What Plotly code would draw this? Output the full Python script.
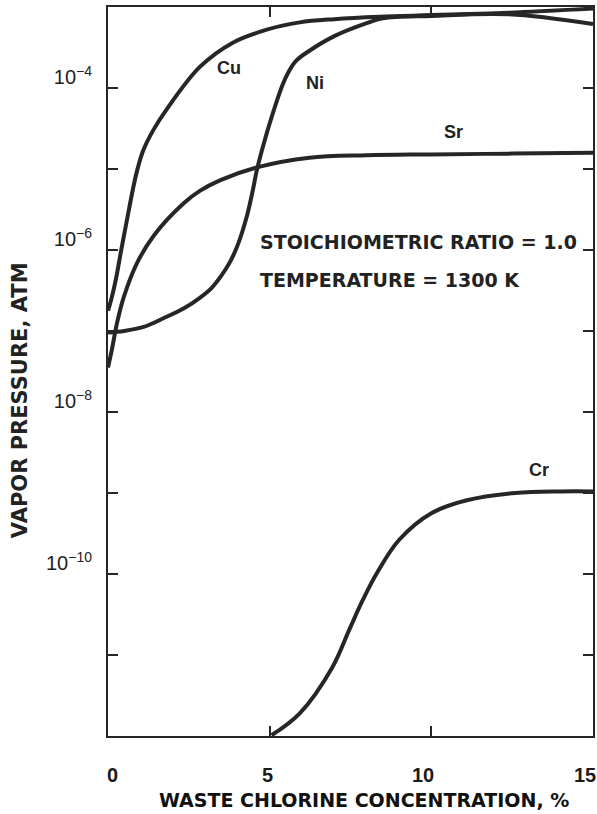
import plotly.graph_objects as go

# ---- data ----
cu_x = [0, 0.12, 0.25, 0.4, 0.6, 0.77, 0.9, 1.08, 1.4, 1.82, 2.84, 3.86, 4.91, 5.93, 7.0, 8.4, 10.0, 12.4, 15.0]
cu_y = [-6.75, -6.58, -6.35, -6.02, -5.6, -5.25, -5.02, -4.78, -4.52, -4.26, -3.74, -3.44, -3.28, -3.19, -3.15, -3.12, -3.10, -3.07, -3.02]

ni_x = [0, 0.5, 1.1, 1.73, 2.35, 2.84, 3.2, 3.5, 3.77, 4.01, 4.29, 4.48, 4.6, 4.78, 5.06, 5.4, 5.6, 5.83, 6.23, 7.0, 8.0, 8.5, 10.0, 12.4, 15.0]
ni_y = [-7.02, -7.0, -6.95, -6.84, -6.72, -6.59, -6.47, -6.32, -6.15, -5.94, -5.59, -5.26, -5.02, -4.74, -4.36, -3.96, -3.79, -3.66, -3.54, -3.36, -3.20, -3.14, -3.11, -3.09, -3.21]

sr_x = [0, 0.12, 0.28, 0.49, 0.9, 1.42, 2.35, 2.84, 3.46, 4.6, 6.23, 8.0, 10.0, 12.5, 15.0]
sr_y = [-7.45, -7.23, -6.90, -6.58, -6.16, -5.82, -5.42, -5.27, -5.14, -4.98, -4.86, -4.83, -4.82, -4.81, -4.80]

cr_x = [5.06, 5.93, 6.94, 7.47, 7.87, 8.3, 9.0, 10.0, 11.1, 12.6, 14.0, 15.0]
cr_y = [-11.99, -11.72, -11.15, -10.68, -10.33, -10.0, -9.58, -9.25, -9.09, -9.0, -8.98, -8.98]

x_ticks = [0, 5, 10, 15]
x_tick_labels = ["0", "5", "10", "15"]
y_tick_exps = [-12, -11, -10, -9, -8, -7, -6, -5, -4, -3]
y_labelled = [-10, -8, -6, -4]

series = [("Cu", cu_x, cu_y), ("Ni", ni_x, ni_y), ("Sr", sr_x, sr_y), ("Cr", cr_x, cr_y)]

LINE = "#262626"
FONT = "Liberation Sans, Arial, sans-serif"
WIDE = "DejaVu Sans, Verdana, sans-serif"

fig = go.Figure()
for name, xs, ys in series:
    fig.add_trace(go.Scatter(
        x=xs, y=[10 ** v for v in ys], mode="lines", name=name,
        line=dict(color=LINE, width=4, shape="spline", smoothing=1.0),
        showlegend=False, hoverinfo="skip"))

y_tickvals = [10 ** e for e in y_tick_exps]
y_ticktext = ["10<sup>\u2212%d</sup>" % (-e) if e in y_labelled else "" for e in y_tick_exps]

fig.update_layout(
    width=597, height=814,
    margin=dict(l=108, r=4, t=7, b=78, pad=0),
    paper_bgcolor="white", plot_bgcolor="white",
    font=dict(family=FONT, color="#222"),
    xaxis=dict(range=[0, 15], tickvals=x_ticks, ticktext=["" for _ in x_ticks],
               ticks="inside", ticklen=10, tickwidth=2, tickcolor=LINE,
               showline=True, linecolor=LINE, linewidth=2, mirror="ticks",
               showgrid=False, zeroline=False, automargin=False),
    yaxis=dict(type="log", range=[-12, -3], tickvals=y_tickvals, ticktext=y_ticktext,
               ticks="inside", ticklen=10, tickwidth=2, tickcolor=LINE,
               showline=True, linecolor=LINE, linewidth=2, mirror="ticks",
               showgrid=False, zeroline=False, tickfont=dict(size=20, color="#222"),
               ticklabelstandoff=10, ticklabelshift=-11, automargin=False),
)

# x tick labels (drawn as annotations so that "15" stays inside the page)
x_label_shift = {"0": 4, "5": -2, "10": -8, "15": -8}
for v, t in zip(x_ticks, x_tick_labels):
    fig.add_annotation(x=v, xref="x", y=-0.0535, yref="paper", text="<b>%s</b>" % t,
                       showarrow=False, xshift=x_label_shift[t], xanchor="center", yanchor="middle",
                       font=dict(family=FONT, size=20, color="#1a1a1a"))

labels = [("Cu", 3.73, -3.75), ("Ni", 6.39, -3.94), ("Sr", 10.7, -4.54), ("Cr", 13.33, -8.72)]
for t, x, y in labels:
    fig.add_annotation(x=x, y=y, text="<b>%s</b>" % t, showarrow=False,
                       xanchor="center", yanchor="middle",
                       font=dict(size=18, color="#222"))

fig.add_annotation(x=4.63, y=-5.90, text="<b>STOICHIOMETRIC RATIO = 1.0</b>", showarrow=False,
                   xanchor="left", yanchor="middle", font=dict(family=WIDE, size=19, color="#222"))
fig.add_annotation(x=4.63, y=-6.37, text="<b>TEMPERATURE = 1300 K</b>", showarrow=False,
                   xanchor="left", yanchor="middle", font=dict(family=WIDE, size=19, color="#222"))

fig.add_annotation(xref="paper", yref="paper", x=0.528, y=-0.088,
                   xanchor="center", yanchor="middle",
                   text="<b>WASTE CHLORINE CONCENTRATION, %</b>", showarrow=False,
                   font=dict(family=WIDE, size=19, color="#111"))
fig.add_annotation(xref="paper", yref="paper", x=-0.181, y=0.461, textangle=-90,
                   xanchor="center", yanchor="middle",
                   text="<b>VAPOR PRESSURE, ATM</b>", showarrow=False,
                   font=dict(family=WIDE, size=21, color="#222"))

fig.write_html("out.html", config={"displayModeBar": False},
               post_script="document.body.style.margin='0px';document.body.style.overflow='hidden';")
